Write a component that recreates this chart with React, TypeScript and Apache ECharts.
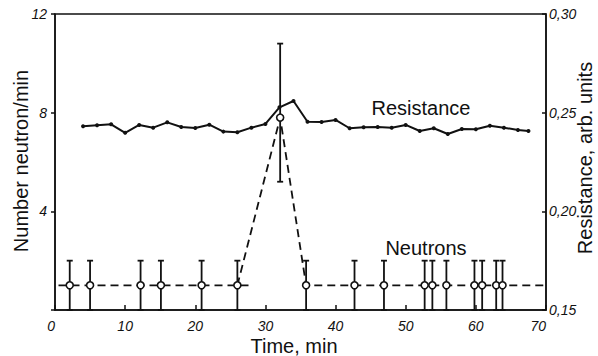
import React, { useEffect, useRef } from "react";
import * as echarts from "echarts";

// Neutron counts: time (min), rate (neutron/min), and error-bar limits
const neutronTime = [2.1, 5.0, 12.2, 15.1, 20.9, 26.0, 32.1, 35.8, 42.7, 46.9, 52.7, 53.8, 55.8, 59.8, 60.9, 62.9, 63.8];
const neutronRate = [1, 1, 1, 1, 1, 1, 7.8, 1, 1, 1, 1, 1, 1, 1, 1, 1, 1];
const neutronLow = [0, 0, 0, 0, 0, 0, 5.2, 0, 0, 0, 0, 0, 0, 0, 0, 0, 0];
const neutronHigh = [2, 2, 2, 2, 2, 2, 10.8, 2, 2, 2, 2, 2, 2, 2, 2, 2, 2];

// Dashed neutron trace: flat background before the burst, and the burst itself
const backgroundTime = [0.5, 28];
const backgroundRate = [1, 1];
const burstTime = [26.0, 32.1, 35.8, 70];
const burstRate = [1, 7.8, 1, 1];

// Resistance (arb. units) sampled every two minutes
const resistanceTime = [4, 6, 8, 10, 12, 14, 16, 18, 20, 22, 24, 26, 28, 30, 32, 34, 36, 38, 40, 42, 44, 46, 48, 50, 52, 54, 56, 58, 60, 62, 64, 66, 67.5];
const resistanceValue = [
  0.2431, 0.2436, 0.2441, 0.2398, 0.2438, 0.2424, 0.2451, 0.2427, 0.2422, 0.2439,
  0.2404, 0.2401, 0.2424, 0.2443, 0.2527, 0.2559, 0.2454, 0.2453, 0.2463, 0.2421,
  0.2426, 0.2427, 0.2424, 0.2438, 0.2407, 0.2421, 0.2392, 0.2417, 0.2416, 0.2434,
  0.2424, 0.2412, 0.2407,
];

const xTicks = { min: 0, max: 70, interval: 10 };
const leftTicks = { min: 0, max: 12, interval: 4 };
const rightTicks = { min: 0.15, max: 0.3, interval: 0.05 };

const INK = "#111";
const SANS = "'Liberation Sans', Arial, sans-serif";
const TICK_FONT = {
  fontFamily: SANS,
  fontStyle: "italic" as const,
  fontSize: 14,
  color: INK,
};

// Plain text placed on the canvas, optionally turned to read bottom-to-top
const label = (text: string, x: number, y: number, vertical = false) => ({
  type: "text",
  x,
  y,
  rotation: vertical ? Math.PI / 2 : 0,
  style: {
    text,
    fontFamily: SANS,
    fontSize: 20,
    fill: INK,
    align: "center",
    verticalAlign: "middle",
  },
});

export default function App() {
  const ref = useRef<HTMLDivElement>(null);

  useEffect(() => {
    if (!ref.current) return;
    const chart = echarts.init(ref.current, undefined, { renderer: "svg" });

    const pairs = (xs: number[], ys: number[]) => xs.map((x, i) => [x, ys[i]]);
    const errorData = neutronTime.map((t, i) => [t, neutronLow[i], neutronHigh[i]]);

    chart.setOption({
      animation: false,
      backgroundColor: "#fff",
      grid: {
        left: 55,
        right: 52,
        top: 14,
        bottom: 46,
        outerBoundsMode: "none",
        containLabel: false,
        show: true,
        borderColor: INK,
        borderWidth: 1.5,
        backgroundColor: "transparent",
      },
      xAxis: {
        type: "value",
        ...xTicks,
        axisLine: { show: true, lineStyle: { color: INK, width: 1.5 } },
        axisTick: { show: true, inside: true, length: 5, lineStyle: { color: INK, width: 1.5 } },
        axisLabel: { ...TICK_FONT, margin: 9, alignMinLabel: "right", alignMaxLabel: "right" },
        splitLine: { show: false },
      },
      yAxis: [
        {
          type: "value",
          ...leftTicks,
          position: "left",
          axisLine: { show: true, lineStyle: { color: INK, width: 1.5 } },
          axisTick: { show: true, inside: false, length: 4, lineStyle: { color: INK, width: 1.5 } },
          axisLabel: {
            ...TICK_FONT,
            margin: 8,
            formatter: (v: number) => (v === 0 ? "" : String(v)),
          },
          splitLine: { show: false },
        },
        {
          type: "value",
          ...rightTicks,
          position: "right",
          axisLine: { show: true, lineStyle: { color: INK, width: 1.5 } },
          axisTick: { show: true, inside: true, length: 4, lineStyle: { color: INK, width: 1.5 } },
          axisLabel: {
            ...TICK_FONT,
            margin: 3,
            formatter: (v: number) => v.toFixed(2).replace(".", ","),
          },
          splitLine: { show: false },
        },
      ],
      graphic: [
        label("Number neutron/min", 21, 161, true),
        label("Resistance, arb. units", 585, 158, true),
        label("Time, min", 294, 346),
        label("Resistance", 421, 108),
        label("Neutrons", 426, 248),
      ],
      series: [
        {
          name: "Neutron background",
          type: "line",
          data: pairs(backgroundTime, backgroundRate),
          showSymbol: false,
          lineStyle: { color: INK, width: 1.8, type: [8, 5] },
          z: 2,
        },
        {
          name: "Neutron burst",
          type: "line",
          data: pairs(burstTime, burstRate),
          showSymbol: false,
          lineStyle: { color: INK, width: 1.8, type: [8, 5] },
          z: 2,
        },
        {
          name: "Neutron error",
          type: "custom",
          data: errorData,
          z: 3,
          renderItem: (params: any, api: any) => {
            const x = api.value(0);
            const lo = api.coord([x, api.value(1)]);
            const hi = api.coord([x, api.value(2)]);
            const cap = 3;
            const style = { stroke: INK, lineWidth: 1.8 };
            return {
              type: "group",
              children: [
                { type: "line", shape: { x1: lo[0], y1: lo[1], x2: hi[0], y2: hi[1] }, style },
                { type: "line", shape: { x1: hi[0] - cap, y1: hi[1], x2: hi[0] + cap, y2: hi[1] }, style },
                { type: "line", shape: { x1: lo[0] - cap, y1: lo[1], x2: lo[0] + cap, y2: lo[1] }, style },
              ],
            };
          },
        },
        {
          name: "Neutrons",
          type: "scatter",
          data: pairs(neutronTime, neutronRate),
          symbol: "circle",
          symbolSize: 7,
          itemStyle: { color: "#fff", borderColor: INK, borderWidth: 1.6, opacity: 1 },
          z: 4,
        },
        {
          name: "Resistance",
          type: "line",
          yAxisIndex: 1,
          data: pairs(resistanceTime, resistanceValue),
          symbol: "circle",
          symbolSize: 4,
          showAllSymbol: true,
          itemStyle: { color: INK },
          lineStyle: { color: INK, width: 2 },
          z: 5,
        },
      ],
    });

    return () => chart.dispose();
  }, []);

  return (
    <div
      ref={ref}
      style={{ position: "fixed", left: 0, top: 0, width: 598, height: 356 }}
    />
  );
}
